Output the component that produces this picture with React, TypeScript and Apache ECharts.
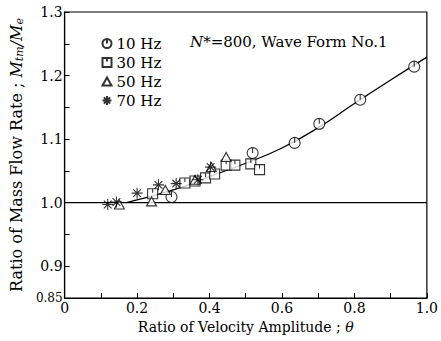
import React, { useEffect, useRef } from 'react';
import * as echarts from 'echarts';

const hz10 = [[0.295, 1.009], [0.519, 1.078], [0.635, 1.094], [0.703, 1.124], [0.816, 1.162], [0.965, 1.214]];
const hz30 = [[0.243, 1.014], [0.332, 1.031], [0.36, 1.034], [0.389, 1.039], [0.414, 1.045], [0.446, 1.059], [0.47, 1.059], [0.514, 1.061], [0.538, 1.052]];
const hz50 = [[0.151, 0.997], [0.24, 1.002], [0.278, 1.02], [0.36, 1.036], [0.405, 1.056], [0.446, 1.072]];
const hz70 = [[0.119, 0.997], [0.143, 1.001], [0.2, 1.015], [0.259, 1.028], [0.308, 1.03], [0.368, 1.036], [0.403, 1.056]];
const fitCurve = [[0.17, 1.0], [0.3, 1.02], [0.4, 1.041], [0.5, 1.062], [0.6, 1.086], [0.7, 1.118], [0.8, 1.156], [0.9, 1.193], [1.0, 1.229]];
const refLine = [[0, 1], [1, 1]];
const yLabels = ['0.85', '0.90', '1.00', '1.10', '1.20', '1.30'];
const xLabels = ['0.0', '0.2', '0.4', '0.6', '0.8', '1.0'];
const seriesNames = ['10 Hz', '30 Hz', '50 Hz', '70 Hz'];

const FONT = 'DejaVu Serif';

const SYM_CIRCLE = 'path://M0,5A5,5 0 1,1 10,5A5,5 0 1,1 0,5Z M5,0L5,5';
const SYM_SQUARE = 'path://M0,0L10,0L10,10L0,10Z M5,0L5,4';
const SYM_TRI = 'path://M5,0L10,9L0,9Z';
const SYM_STAR = 'path://M0,5L10,5M5,0L5,10M1.5,1.5L8.5,8.5M8.5,1.5L1.5,8.5';

export default function App() {
  const ref = useRef<HTMLDivElement>(null);
  useEffect(() => {
    if (!ref.current) return;
    const chart = echarts.init(ref.current, undefined, { renderer: 'svg' });
    const markerStyle = { color: '#fff', borderColor: '#000', borderWidth: 1.1 };
    const scatter = (name: string, data: number[][], symbol: string, size: number | number[], style: any) => ({
      name,
      type: 'scatter',
      data,
      symbol,
      symbolSize: size,
      itemStyle: style,
      z: 5,
    });
    chart.setOption({
      animation: false,
      grid: { left: 59, right: 12, top: 12, bottom: 43, show: true, borderColor: '#000', borderWidth: 1.2, backgroundColor: 'transparent' },
      legend: {
        orient: 'vertical',
        left: 100,
        top: 36,
        padding: 0,
        itemWidth: 9,
        itemHeight: 9,
        itemGap: 4,
        data: seriesNames,
        textStyle: { fontFamily: FONT, fontSize: 15, color: '#000' },
      },
      graphic: [
        {
          type: 'text',
          left: 190,
          top: 34,
          style: {
            text: '{i|N}*=800, Wave Form No.1',
            font: `15px "${FONT}"`,
            fill: '#000',
            rich: { i: { fontStyle: 'italic', fontFamily: FONT, fontSize: 15 } },
          },
        },
      ],
      xAxis: {
        type: 'value',
        min: 0,
        max: 1,
        interval: 0.1,
        name: 'Ratio of Velocity Amplitude ; {i|θ}',
        nameLocation: 'middle',
        nameGap: 22,
        nameTextStyle: { fontFamily: FONT, fontSize: 14, color: '#000', rich: { i: { fontStyle: 'italic', fontFamily: FONT, fontSize: 14 } } },
        axisLine: { lineStyle: { color: '#000', width: 1.2 } },
        axisTick: { inside: true, length: 5, lineStyle: { color: '#000' } },
        splitLine: { show: false },
        axisLabel: {
          color: '#000',
          fontFamily: FONT,
          fontSize: 14,
          margin: 3,
          formatter: (v: number) => {
            const s = v.toFixed(1);
            if (!xLabels.includes(s)) return '';
            return s === '0.0' ? '0' : s;
          },
        },
      },
      yAxis: {
        type: 'value',
        min: 0.85,
        max: 1.3,
        interval: 0.05,
        name: 'Ratio of Mass Flow Rate ; {i|M}{s|tm}{i|/M}{s|e}',
        nameLocation: 'middle',
        nameGap: 33,
        nameRotate: 90,
        nameTextStyle: {
          fontFamily: FONT,
          fontSize: 16,
          color: '#000',
          rich: {
            i: { fontStyle: 'italic', fontFamily: FONT, fontSize: 16 },
            s: { fontStyle: 'italic', fontFamily: FONT, fontSize: 11, padding: [7, 0, 0, 0] },
          },
        },
        axisLine: { lineStyle: { color: '#000', width: 1.2 } },
        axisTick: { inside: true, length: 5, lineStyle: { color: '#000' } },
        splitLine: { show: false },
        axisLabel: {
          color: '#000',
          fontFamily: FONT,
          fontSize: 14,
          margin: 2,
          formatter: (v: number) => {
            const s = v.toFixed(2);
            if (!yLabels.includes(s)) return '';
            if (s === '0.85') return '{s|0.85}';
            return v.toFixed(1);
          },
          rich: { s: { fontFamily: FONT, fontSize: 12, color: '#000' } },
        },
      },
      series: [
        {
          name: 'ref',
          type: 'line',
          data: refLine,
          showSymbol: false,
          lineStyle: { color: '#000', width: 1.2 },
          z: 2,
        },
        {
          name: 'fit',
          type: 'line',
          data: fitCurve,
          smooth: true,
          showSymbol: false,
          lineStyle: { color: '#000', width: 1.3 },
          z: 3,
        },
        scatter('10 Hz', hz10, SYM_CIRCLE, 11, markerStyle),
        scatter('30 Hz', hz30, SYM_SQUARE, 10, markerStyle),
        scatter('50 Hz', hz50, SYM_TRI, [10, 9], markerStyle),
        scatter('70 Hz', hz70, SYM_STAR, 11, { color: 'none', borderColor: '#000', borderWidth: 1.1 }),
      ],
    });
    return () => chart.dispose();
  }, []);
  return <div ref={ref} style={{ width: 441, height: 341, position: 'absolute', left: 0, top: 0 }} />;
}
